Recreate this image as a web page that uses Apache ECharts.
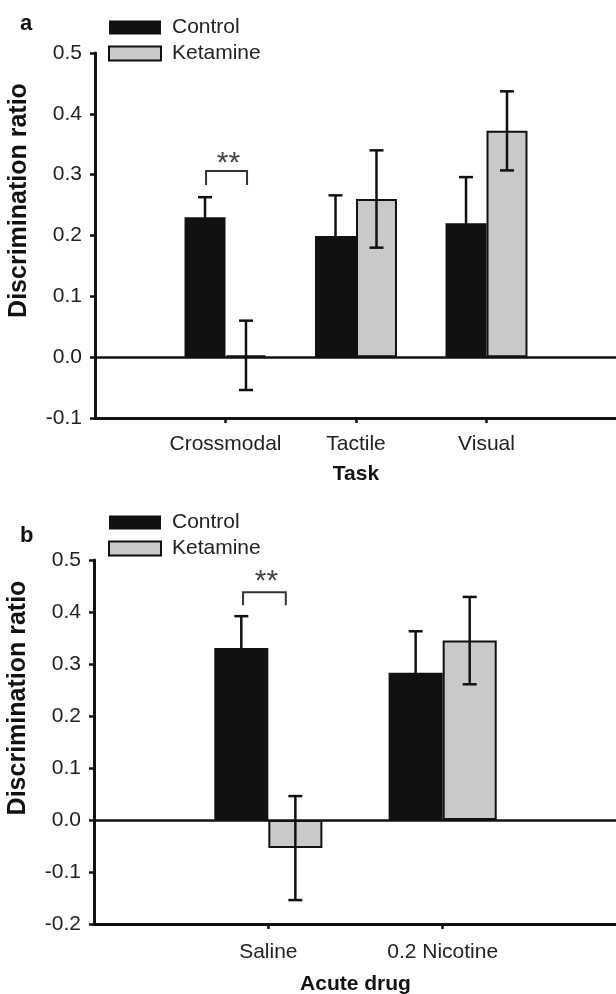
<!DOCTYPE html>
<html><head><meta charset="utf-8">
<script src="https://cdn.jsdelivr.net/npm/echarts@6.0.0/dist/echarts.min.js"></script>
<style>html,body{margin:0;padding:0;background:#fff}#c{width:616px;height:994px}</style>
</head><body><div id="c"></div>
<script>
// ---- data (panel a) ----
const tasks = ['Crossmodal', 'Tactile', 'Visual'];
const taskControl = [0.230, 0.199, 0.220];
const taskControlErr = [0.033, 0.067, 0.076];
const taskKetamine = [0.003, 0.260, 0.372];
const taskKetamineErr = [0.057, 0.080, 0.065];
// ---- data (panel b) ----
const drugs = ['Saline', '0.2 Nicotine'];
const drugControl = [0.331, 0.283];
const drugControlErr = [0.061, 0.080];
const drugKetamine = [-0.054, 0.345];
const drugKetamineErr = [0.100, 0.084];
// ---- axis ranges ----
const yRangeA = [-0.1, 0.5];
const yRangeB = [-0.2, 0.5];
const yStep = 0.1;
// ---- significance brackets: [x start, x end, bracket top, leg end, label y] ----
const sigA = [0.851, 1.165, 0.306, 0.283, 0.318];
const sigB = [0.855, 1.100, 0.438, 0.413, 0.459];
const sigText = '**';

const INK = '#111';
const GRAY = '#c9c9c9';
const FONT = 'Liberation Sans';
const pctA = 0.314, pctB = 0.31;

const chart = echarts.init(document.getElementById('c'), null, {renderer: 'canvas'});

function fmtY(v) { return Math.abs(v) < 1e-9 ? '0.0' : v.toFixed(1); }

function xAxisCfg(grid, cats, maxV, name, nameGap, labelMargin) {
  const ticks = cats.map((c, i) => i + 1);
  return {
    gridIndex: grid, type: 'value', min: 0, max: maxV, position: 'bottom',
    axisLine: {show: true, onZero: false, lineStyle: {color: INK, width: 3}},
    axisTick: {show: true, customValues: ticks, length: 5, inside: false, lineStyle: {color: INK, width: 2.5}},
    axisLabel: {show: true, customValues: ticks, formatter: v => cats[Math.round(v) - 1] || '', fontSize: 21, color: '#222', margin: labelMargin, fontFamily: FONT},
    splitLine: {show: false},
    name: name, nameLocation: 'middle', nameGap: nameGap,
    nameTextStyle: {fontWeight: 'bold', fontSize: 21, color: '#111', fontFamily: FONT}
  };
}
function yAxisCfg(grid, range, shift) {
  return {
    gridIndex: grid, type: 'value', min: range[0], max: range[1], interval: yStep,
    axisLine: {show: true, onZero: false, lineStyle: {color: INK, width: 3}},
    axisTick: {show: true, length: 5, inside: false, lineStyle: {color: INK, width: 2.5}},
    axisLabel: {formatter: fmtY, fontSize: 21, color: '#222', margin: 13, fontFamily: FONT},
    splitLine: {show: false},
    name: 'Discrimination ratio', nameLocation: 'middle', nameGap: 63, nameRotate: 90,
    nameTextStyle: {fontWeight: 'bold', fontSize: 25, color: '#111', fontFamily: FONT, padding: [0, 0, 0, shift]}
  };
}
function bars(name, grid, vals, pct, isCtrl) {
  const s = {
    type: 'bar', name: name, xAxisIndex: grid, yAxisIndex: grid,
    data: vals.map((v, i) => [i + 1, v]),
    barWidth: (pct * 100) + '%', barGap: '0%',
    itemStyle: isCtrl ? {color: INK, borderColor: INK, borderWidth: 0}
                      : {color: GRAY, borderColor: INK, borderWidth: 2},
    emphasis: {disabled: true}, silent: true, z: 2
  };
  if (isCtrl) {
    s.markLine = {silent: true, symbol: ['none', 'none'], label: {show: false},
      lineStyle: {color: INK, width: 2.5, type: 'solid'}, emphasis: {disabled: true},
      data: [{yAxis: 0}], z: 4};
  }
  return s;
}
function errs(grid, vals, es, pct, side) {
  return {
    type: 'custom', name: 'err' + grid + side, xAxisIndex: grid, yAxisIndex: grid,
    data: vals.map((v, i) => [i + 1, v, es[i]]), silent: true, z: 5,
    renderItem: function (params, api) {
      const x = api.value(0), m = api.value(1), e = api.value(2);
      const band = api.size([1, 0])[0];
      const dx = side * band * pct / 2;
      const p0 = api.coord([x, m + e]), p1 = api.coord([x, m - e]);
      const cx = p0[0] + dx, h = 7;
      const st = {stroke: INK, lineWidth: 2.5};
      return {type: 'group', children: [
        {type: 'line', shape: {x1: cx, y1: p0[1], x2: cx, y2: p1[1]}, style: st},
        {type: 'line', shape: {x1: cx - h, y1: p0[1], x2: cx + h, y2: p0[1]}, style: st},
        {type: 'line', shape: {x1: cx - h, y1: p1[1], x2: cx + h, y2: p1[1]}, style: st}
      ]};
    }
  };
}
function sig(grid, s) {
  return {
    type: 'custom', name: 'sig' + grid, xAxisIndex: grid, yAxisIndex: grid,
    data: [s], silent: true, z: 6,
    renderItem: function (params, api) {
      const a = api.coord([api.value(0), api.value(3)]);
      const b = api.coord([api.value(0), api.value(2)]);
      const c = api.coord([api.value(1), api.value(2)]);
      const d = api.coord([api.value(1), api.value(3)]);
      const t = api.coord([(api.value(0) + api.value(1)) / 2, api.value(4)]);
      return {type: 'group', children: [
        {type: 'polyline', shape: {points: [a, b, c, d]}, style: {stroke: '#333', lineWidth: 2, fill: null}},
        {type: 'text', x: t[0] + 2, y: t[1], style: {text: sigText, fill: '#444', font: '30px "Liberation Sans"', align: 'center', verticalAlign: 'middle'}}
      ]};
    }
  };
}
function legendCfg(top) {
  return {
    orient: 'vertical', left: 108, top: top, padding: 0, itemWidth: 52, itemHeight: 14, itemGap: 5,
    icon: 'rect', selectedMode: false,
    textStyle: {fontSize: 21, color: '#222', fontFamily: FONT, padding: [0, 0, 0, 6]},
    data: ['Control', 'Ketamine']
  };
}

const option = {
  animation: false,
  backgroundColor: '#fff',
  textStyle: {fontFamily: FONT},
  title: [
    {text: 'a', left: 15, top: 8, textStyle: {fontWeight: 'bold', fontSize: 22, color: '#111', fontFamily: FONT}},
    {text: 'b', left: 15, top: 520, textStyle: {fontWeight: 'bold', fontSize: 22, color: '#111', fontFamily: FONT}}
  ],
  legend: [legendCfg(17), legendCfg(512)],
  grid: [
    {left: 95, right: -1, top: 53, height: 365, containLabel: false, outerBoundsMode: 'none'},
    {left: 94, right: -1, top: 560, height: 364, containLabel: false, outerBoundsMode: 'none'}
  ],
  xAxis: [
    xAxisCfg(0, tasks, 4, 'Task', 46, 16),
    xAxisCfg(1, drugs, 3, 'Acute drug', 50, 18)
  ],
  yAxis: [yAxisCfg(0, yRangeA, 70), yAxisCfg(1, yRangeB, 88)],
  series: [
    bars('Control', 0, taskControl, pctA, true),
    bars('Ketamine', 0, taskKetamine, pctA, false),
    errs(0, taskControl, taskControlErr, pctA, -1),
    errs(0, taskKetamine, taskKetamineErr, pctA, 1),
    sig(0, sigA),
    bars('Control', 1, drugControl, pctB, true),
    bars('Ketamine', 1, drugKetamine, pctB, false),
    errs(1, drugControl, drugControlErr, pctB, -1),
    errs(1, drugKetamine, drugKetamineErr, pctB, 1),
    sig(1, sigB)
  ]
};
chart.setOption(option);
</script>
</body></html>
